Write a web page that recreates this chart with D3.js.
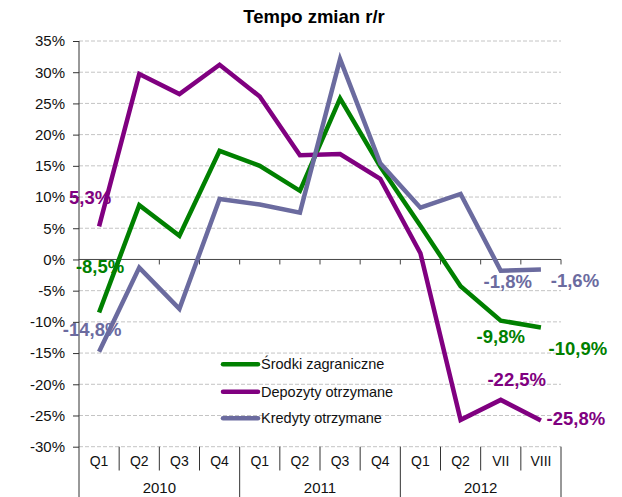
<!DOCTYPE html>
<html>
<head>
<meta charset="utf-8">
<script src="https://d3js.org/d3.v7.min.js"></script>
<style>
  body { margin: 0; background: #fff; }
  text { font-family: "Liberation Sans", Arial, sans-serif; }
</style>
</head>
<body>
<script>
// categories and values
var categories = ["Q1", "Q2", "Q3", "Q4", "Q1", "Q2", "Q3", "Q4", "Q1", "Q2", "VII", "VIII"];
var years = ["2010", "2011", "2012"];
var yTicks = [35, 30, 25, 20, 15, 10, 5, 0, -5, -10, -15, -20, -25, -30];

var srodki = [-8.5, 8.7, 3.8, 17.4, 15.0, 11.0, 25.8, 14.9, 5.4, -4.3, -9.8, -10.9];
var depozyty = [5.3, 29.7, 26.5, 31.2, 26.1, 16.7, 16.9, 12.9, 1.0, -25.7, -22.5, -25.8];
var kredyty = [-14.8, -1.3, -7.9, 9.7, 8.8, 7.5, 32.1, 15.4, 8.3, 10.5, -1.8, -1.6];

var seriesNames = ["Środki zagraniczne", "Depozyty otrzymane", "Kredyty otrzymane"];
var seriesColors = ["#008000", "#800080", "#6b6b9f"];
var labelIndex = [0, 10, 11];

var svgWidth = 622;
var svgHeight = 497;
var plotLeft = 79;
var plotRight = 561;
var plotTop = 41;
var plotBottom = 446.7;

var svg = d3.select("body")
            .append("svg")
            .attr("width", svgWidth)
            .attr("height", svgHeight);

var xScale = d3.scaleBand()
               .domain(d3.range(categories.length))
               .range([plotLeft, plotRight]);

var yScale = d3.scaleLinear()
               .domain([-30, 35])
               .range([plotBottom, plotTop]);

// title
svg.append("text")
   .attr("x", 314)
   .attr("y", 23)
   .attr("text-anchor", "middle")
   .style("font-size", "18.5px")
   .style("font-weight", "bold")
   .text("Tempo zmian r/r");

// gridlines
svg.append("g")
   .selectAll("line")
   .data(yTicks.filter(function(d) { return d != 0; }))
   .enter()
   .append("line")
   .attr("x1", plotLeft)
   .attr("x2", plotRight)
   .attr("y1", function(d) { return yScale(d); })
   .attr("y2", function(d) { return yScale(d); })
   .attr("stroke", "#c4c4c4")
   .attr("stroke-dasharray", "4,2");

// y axis
var yAxis = svg.append("g")
               .attr("transform", "translate(" + plotLeft + ",0)")
               .call(d3.axisLeft(yScale)
                       .tickValues(yTicks)
                       .tickSize(6)
                       .tickPadding(8)
                       .tickFormat(function(d) { return d + "%"; }));
yAxis.select(".domain").remove();
yAxis.selectAll(".tick line").attr("stroke", "#333");
yAxis.selectAll(".tick text")
     .attr("fill", "#111")
     .style("font-size", "15px")
     .style("font-family", "'Liberation Sans', Arial, sans-serif");

svg.append("line")
   .attr("x1", plotLeft).attr("x2", plotLeft)
   .attr("y1", plotTop).attr("y2", svgHeight)
   .attr("stroke", "#333");

// zero line with category ticks
svg.append("line")
   .attr("x1", plotLeft).attr("x2", plotRight)
   .attr("y1", yScale(0)).attr("y2", yScale(0))
   .attr("stroke", "#444");

svg.append("g")
   .selectAll("line")
   .data(d3.range(1, categories.length + 1))
   .enter()
   .append("line")
   .attr("x1", function(i) { return plotLeft + i * xScale.bandwidth(); })
   .attr("x2", function(i) { return plotLeft + i * xScale.bandwidth(); })
   .attr("y1", yScale(0))
   .attr("y2", yScale(0) + 5)
   .attr("stroke", "#444");

// category separators below the plot
svg.append("g")
   .selectAll("line")
   .data(d3.range(1, categories.length + 1))
   .enter()
   .append("line")
   .attr("x1", function(i) { return plotLeft + i * xScale.bandwidth(); })
   .attr("x2", function(i) { return plotLeft + i * xScale.bandwidth(); })
   .attr("y1", plotBottom)
   .attr("y2", function(i) { return i % 4 == 0 ? svgHeight : 470.5; })
   .attr("stroke", "#333");

svg.append("g")
   .selectAll("text")
   .data(categories)
   .enter()
   .append("text")
   .attr("x", function(d, i) { return xScale(i) + xScale.bandwidth() / 2; })
   .attr("y", 466)
   .attr("text-anchor", "middle")
   .attr("fill", "#111")
   .style("font-size", "14px")
   .text(function(d) { return d; });

svg.append("g")
   .selectAll("text")
   .data(years)
   .enter()
   .append("text")
   .attr("x", function(d, i) { return plotLeft + (i * 4 + 2) * xScale.bandwidth(); })
   .attr("y", 493)
   .attr("text-anchor", "middle")
   .attr("fill", "#111")
   .style("font-size", "15px")
   .text(function(d) { return d; });

// lines
var allSeries = [srodki, depozyty, kredyty];

var line = d3.line()
             .x(function(d, i) { return xScale(i) + xScale.bandwidth() / 2; })
             .y(function(d) { return yScale(d); });

svg.append("g")
   .selectAll("path")
   .data(allSeries)
   .enter()
   .append("path")
   .attr("d", line)
   .attr("fill", "none")
   .attr("stroke", function(d, i) { return seriesColors[i]; })
   .attr("stroke-width", 4.5)
   .attr("stroke-linejoin", "miter");

// data labels: offsets [dx, dy] from the point, per series and label
var labelOffsets = [
  [[1, -40], [0, 22], [37, 28]],
  [[-9, -22], [16, -14], [35, 5]],
  [[-7, -16], [7, 17], [34, 18]]
];

allSeries.forEach(function(values, s) {
  svg.append("g")
     .selectAll("text")
     .data(labelIndex)
     .enter()
     .append("text")
     .attr("x", function(idx, k) { return xScale(idx) + xScale.bandwidth() / 2 + labelOffsets[s][k][0]; })
     .attr("y", function(idx, k) { return yScale(values[idx]) + labelOffsets[s][k][1]; })
     .attr("text-anchor", "middle")
     .attr("fill", seriesColors[s])
     .style("font-size", "18.5px")
     .style("font-weight", "bold")
     .text(function(idx) { return String(values[idx]).replace(".", ",") + "%"; });
});

// legend
var legendRows = [364.3, 391.7, 418.3];
var legend = svg.selectAll(".legend")
                .data(seriesNames)
                .enter()
                .append("g")
                .attr("class", "legend")
                .attr("transform", function(d, i) { return "translate(0," + legendRows[i] + ")"; });

legend.append("line")
      .attr("x1", 223)
      .attr("x2", 258)
      .attr("stroke", function(d, i) { return seriesColors[i]; })
      .attr("stroke-width", 4.5)
      .attr("stroke-linecap", "round");

legend.append("text")
      .attr("x", 261)
      .attr("y", 5)
      .attr("fill", "#111")
      .style("font-size", "14.5px")
      .text(function(d) { return d; });
</script>
</body>
</html>
